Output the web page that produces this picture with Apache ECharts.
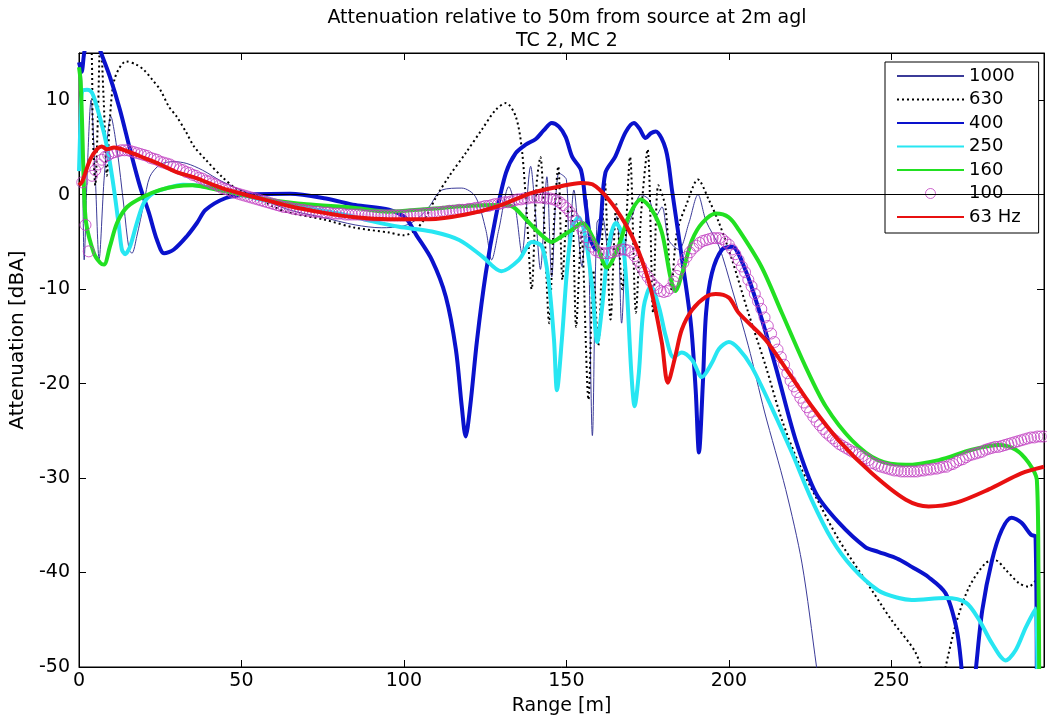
<!DOCTYPE html>
<html><head><meta charset="utf-8">
<script src="https://cdn.jsdelivr.net/npm/echarts/dist/echarts.min.js"></script>
<style>html,body{margin:0;padding:0;background:#fff}#c{width:1047px;height:723px}</style>
</head><body><div id="c"></div>
<script>
const xTicks = [0, 50, 100, 150, 200, 250];
const yTicks = [-50, -40, -30, -20, -10, 0, 10];
const seriesNames = ['1000', '630', '400', '250', '160', '100', '63 Hz'];
const titleLines = ['Attenuation relative to 50m from source at 2m agl', 'TC 2, MC 2'];

const s1000 = [[0,5],[0.7,13],[1.6,-6.9],[2.6,3],[3.7,10],[5,2],[6.2,-6.8],[7.8,2],[9.8,8.3],[11.7,4.8],[13.8,-1.2],[15.4,-5.8],[16.3,-6.2],[17.8,-4.4],[20,-0.85],[21.8,1.9],[25,3.2],[29.2,3.5],[33.2,3.3],[38,2.6],[44,1.4],[54.5,-0.2],[64.6,-1.6],[75,-2.4],[85,-3.2],[93,-3.5],[100,-3.3],[104,-2.6],[107.7,-1.3],[111.7,0.5],[117.8,0.7],[122,-0.2],[125.2,-3.7],[127,-6.9],[129.2,-3.7],[132.3,0.85],[134.4,-1.6],[136.3,-6.2],[139,3],[140.5,-2],[142,-7.9],[144,1.9],[145.5,-8.7],[147.7,2.3],[150,1.6],[150.8,-5.8],[152.3,0.5],[154.8,-7.6],[156.3,-0.5],[158,-25.5],[159.4,-3],[161,-2.3],[163,-6],[165.5,-2.3],[167,-13.6],[168.6,-3.7],[170.5,-2],[172.9,0],[175.4,-0.5],[177.5,-2.3],[179.4,-1.3],[181.5,-4.8],[184.6,-5.8],[187.7,-3],[190.5,0],[193,-2.8],[197,-5.5],[201,-10],[206,-16],[211,-23],[217.5,-31.2],[222.5,-39],[227,-50],[229,-55]];

const s630 = [[0,17],[3.3,17],[4.3,6],[5,1],[5.8,8],[6.6,17],[7.6,10],[8.6,2],[9.5,8],[11,12.3],[14.5,14.1],[17.5,13.8],[20,13.2],[22.5,12.2],[25,11.1],[27.7,9.3],[30,8.3],[33,6.6],[35.4,5.1],[39,3.7],[44,1.9],[49,0.5],[54.5,-0.2],[59.4,-1.2],[64.6,-1.9],[75,-2.6],[85,-3.5],[95.4,-4],[100,-4.3],[103.7,-3.7],[106.8,-2.3],[110,-0.2],[113.8,1.9],[119,4.4],[124,6.9],[128.3,9],[131.4,9.7],[134.4,8.3],[136.3,4.8],[137.8,-2],[139.3,-10],[140.8,1],[142,4],[143.3,-4],[144.7,-13.6],[146,-4],[147.5,3],[148.8,-9],[150.2,-2],[151.6,-1.3],[153,-14],[154.6,-4],[156.8,-21.7],[158.3,-8],[159.8,-16],[161.8,1.6],[163.6,-13.2],[165.4,-1],[167.2,-10],[169.6,4],[171.4,-12.5],[173,-2],[175,4.8],[176.7,-12.5],[178.3,1],[180.5,-1.3],[182.3,-10],[184,-4],[187,-1],[190.5,1.6],[193.8,-0.5],[197,-3],[201,-6.9],[206,-12.5],[211.4,-18.2],[216.3,-23.8],[221.5,-28.4],[226.8,-32],[233.8,-36.5],[242,-40.8],[250,-45],[257.5,-48.5],[261,-52],[264,-54],[266.7,-50],[270,-45.3],[274,-41.5],[279,-39],[282,-38.7],[285.2,-39.7],[289.2,-41.1],[292.3,-41.5],[294.5,-40.8]];

const s400 = [[0,14],[0.8,13],[1.6,15],[3,17],[5,17],[6.5,15.3],[9.5,12.5],[12.6,9],[15.7,4.8],[18.8,0.85],[21.5,-1.9],[24,-4.8],[26.2,-6.2],[29.2,-5.8],[33.2,-4.4],[36.3,-3],[39,-1.6],[45.2,-0.35],[51.4,0],[65,0.1],[76,-0.4],[85,-1.1],[95.4,-1.6],[100.6,-2.5],[103.7,-4.2],[108.6,-6.9],[112.9,-10.8],[116,-16.4],[117.8,-22.4],[119,-25.6],[120.4,-22.4],[122.5,-15.4],[125.2,-8.3],[128.3,-2.3],[131.4,2.3],[134.4,4.4],[137.5,5.3],[140.6,5.9],[143,6.8],[145.5,7.6],[147.7,7.2],[149.8,6.1],[151.8,4],[154.5,2.6],[156,-1.2],[157.5,-4.8],[159,-5.8],[160.5,-3],[162,2.3],[165,4],[168.2,6.6],[170.8,7.6],[172.5,7],[174.4,6],[176,6.5],[177.5,6.7],[180.6,4.8],[182.5,0.5],[185.5,-6.6],[188.3,-13.6],[189.8,-20.7],[190.8,-27.3],[192,-20],[193,-12.5],[194.8,-8.3],[197.9,-5.8],[201,-5.5],[205,-7.9],[209,-11.9],[214.4,-18.2],[220.6,-26],[226.8,-31.6],[233.8,-34.7],[242,-37.3],[246,-37.8],[252.3,-38.6],[256.3,-39.4],[261.5,-40.5],[266.7,-42.2],[270,-45.8],[271.4,-49.3],[273.5,-58],[276,-50.3],[278,-44],[281,-38.7],[284,-35.5],[287,-34.2],[290,-34.7],[293,-36],[294.4,-36.2],[294.8,-55]];

const s250 = [[0,2.5],[0.5,8],[1,11],[2.5,11.1],[4,10.8],[5.5,9.3],[7.7,6.5],[9.2,4],[10.8,0.5],[12.3,-3.4],[13.2,-5.8],[14.2,-6.3],[15.7,-5.5],[17.8,-3],[20,-0.85],[23,0.2],[27,0.7],[32,1.05],[38,0.9],[44,0.5],[50,0],[60,-0.8],[70,-1.4],[80,-2.0],[90,-2.8],[98.5,-3.4],[108.6,-3.9],[117,-4.8],[124,-6.5],[130,-8.1],[135.4,-6.9],[139.4,-5],[142.5,-5.5],[144.6,-9.3],[146.2,-15.4],[147.1,-20.7],[148.6,-15.4],[150.2,-8],[151.8,-3.4],[153.8,-2.4],[156,-4.8],[158,-10],[159.5,-15.6],[161,-11.9],[163,-5.5],[165.2,-3],[167,-4],[168.6,-10],[170,-18.9],[171,-22.4],[172.3,-18.9],[173.8,-11.9],[176,-9.7],[178.5,-11.9],[180.6,-15],[183,-17.2],[185.5,-16.7],[188.7,-17.5],[191.7,-19.3],[194.8,-17.8],[197,-16.3],[200,-15.6],[203,-16.3],[207,-18.2],[213,-22.4],[219.4,-27.3],[225.5,-32.3],[231.7,-36.5],[237.9,-39.4],[246,-41.9],[252.3,-42.7],[256.3,-42.9],[266.7,-42.7],[273,-43.2],[277,-45],[281,-47.5],[285.2,-49.3],[288.3,-48.2],[291.4,-45.8],[294.5,-43.8],[295,-55]];

const s160 = [[0,13.5],[0.5,12],[1,7],[1.5,1],[2.2,-3],[4.6,-6.2],[6.5,-7.2],[7.7,-7.4],[9.5,-5.5],[11.7,-3],[14.8,-1.3],[20,-0.2],[25,0.5],[30,0.9],[35,1.0],[40,0.7],[50,0],[60,-0.6],[70,-1.0],[85,-1.4],[95,-1.8],[108,-1.5],[119,-1.2],[129,-1.1],[133,-1.2],[137.5,-2.6],[141.5,-4],[145.5,-5],[148.6,-4.4],[151.8,-3.7],[154.8,-3],[159,-5.1],[162.5,-7.7],[166,-5.5],[169.2,-2.3],[172.9,-0.5],[176.3,-1.6],[179.4,-4],[182,-8.7],[183.5,-10.2],[186,-7.9],[188.7,-4.8],[191.8,-3],[196,-2.0],[200,-2.4],[203,-3.7],[210,-7.6],[216.3,-12.5],[223.6,-18.2],[229.8,-22.4],[237.9,-26],[246,-28.1],[254.5,-28.6],[264.6,-28.1],[274.8,-27],[283,-26.5],[288.3,-27],[292.3,-28.4],[294.8,-30.2],[295.3,-40],[295.6,-55]];

const x100Start = 1;
const y100 = [
 1.3,-3.2,-6.0,2.0,2.6,3.2,3.7,4.0,4.2,4.4,
 4.5,4.6,4.7,4.7,4.7,4.6,4.5,4.4,4.3,4.2,
 4.1,3.9,3.8,3.7,3.5,3.4,3.3,3.2,3.0,2.9,
 2.7,2.6,2.4,2.3,2.1,2.0,1.8,1.7,1.5,1.4,
 1.2,1.1,0.9,0.7,0.6,0.5,0.3,0.2,0.1,0.0,
 -0.1,-0.2,-0.3,-0.4,-0.5,-0.6,-0.7,-0.8,-0.9,-1.0,
 -1.1,-1.2,-1.3,-1.3,-1.4,-1.5,-1.5,-1.6,-1.6,-1.7,
 -1.7,-1.8,-1.8,-1.8,-1.9,-1.9,-1.9,-2.0,-2.0,-2.0,
 -2.0,-2.1,-2.1,-2.1,-2.1,-2.1,-2.1,-2.2,-2.2,-2.2,
 -2.2,-2.2,-2.2,-2.2,-2.2,-2.2,-2.2,-2.2,-2.2,-2.2,
 -2.2,-2.1,-2.1,-2.1,-2.1,-2.0,-2.0,-2.0,-1.9,-1.9,
 -1.9,-1.8,-1.8,-1.7,-1.7,-1.7,-1.6,-1.6,-1.6,-1.5,
 -1.5,-1.4,-1.4,-1.3,-1.2,-1.2,-1.1,-1.0,-1.0,-0.9,
 -0.8,-0.8,-0.7,-0.6,-0.5,-0.5,-0.4,-0.4,-0.3,-0.3,
 -0.3,-0.3,-0.3,-0.4,-0.4,-0.5,-0.6,-0.8,-1.1,-1.4,
 -1.8,-2.3,-2.8,-3.3,-3.9,-4.5,-5.0,-5.5,-5.9,-6.1,
 -6.2,-6.2,-6.2,-6.1,-6.0,-5.9,-5.8,-5.8,-5.9,-6.1,
 -6.5,-7.0,-7.6,-8.2,-8.7,-9.2,-9.6,-9.9,-10.2,-10.3,
 -10.2,-9.9,-9.2,-8.6,-7.9,-7.2,-6.6,-6.1,-5.7,-5.4,
 -5.1,-4.9,-4.8,-4.7,-4.6,-4.6,-4.6,-4.7,-5.0,-5.3,
 -5.8,-6.3,-6.9,-7.6,-8.2,-9.0,-9.7,-10.5,-11.3,-12.1,
 -13.0,-13.9,-14.7,-15.6,-16.4,-17.2,-18.0,-18.9,-19.7,-20.3,
 -20.9,-21.5,-22.0,-22.5,-23.0,-23.5,-24.0,-24.4,-24.8,-25.2,
 -25.5,-25.8,-26.1,-26.4,-26.6,-26.8,-27.0,-27.2,-27.3,-27.5,
 -27.7,-27.9,-28.1,-28.4,-28.5,-28.7,-28.8,-28.9,-29.0,-29.1,
 -29.2,-29.2,-29.3,-29.3,-29.3,-29.3,-29.3,-29.3,-29.2,-29.2,
 -29.1,-29.1,-29.0,-29.0,-28.9,-28.8,-28.8,-28.6,-28.5,-28.3,
 -28.1,-28.0,-27.8,-27.6,-27.5,-27.4,-27.3,-27.2,-27.0,-26.9,
 -26.8,-26.7,-26.7,-26.6,-26.5,-26.4,-26.3,-26.2,-26.1,-26.0,
 -25.9,-25.8,-25.7,-25.7,-25.6,-25.6,-25.6
];

const s63 = [[0,1.0],[1,1.4],[3.4,3.7],[5.5,4.8],[7,5.1],[8.6,4.8],[10.8,5.0],[14.8,4.6],[20,3.9],[25,3.2],[30,2.4],[35.7,1.8],[44,0.7],[54.5,-0.3],[64.6,-1.2],[75,-1.9],[85,-2.4],[95.4,-2.6],[107.7,-2.6],[119,-2.1],[129,-1.2],[139.4,0.2],[147.7,0.85],[154.5,1.25],[158,1.1],[163,-0.5],[168,-3],[172,-5.8],[176,-10],[179.4,-15.7],[181.2,-19.9],[183.6,-17],[185.5,-14.3],[188.7,-12.2],[193,-10.8],[196,-10.5],[200,-10.9],[203,-12.5],[211.4,-15.4],[218.5,-18.9],[225.5,-22.4],[233.8,-26],[244,-29.5],[254.5,-32.3],[261.5,-33],[270,-32.6],[280,-31.2],[290,-29.5],[297,-28.8]];

const FONT = 'DejaVu Sans';
const MAGENTA = '#c03cc0';
const chart = echarts.init(document.getElementById('c'), null, {renderer: 'canvas'});

const baseAxisX = {type: 'value', min: 0, max: 297, interval: 50, splitLine: {show: false},
  axisLine: {show: true, onZero: false, lineStyle: {color: '#000', width: 1}},
  axisTick: {show: true, inside: true, length: 7, lineStyle: {color: '#000'}}};
const baseAxisY = {type: 'value', min: -50, max: 15, interval: 10, splitLine: {show: false},
  axisLine: {show: true, onZero: false, lineStyle: {color: '#000', width: 1}},
  axisTick: {show: true, inside: true, length: 7, lineStyle: {color: '#000'}}};

function lineSeries(name, data, color, width, type, z) {
  return {name, type: 'line', data, symbol: 'none', showSymbol: false, smooth: 0.3, z,
    lineStyle: {color, width, type}, itemStyle: {color}, clip: true, animation: false};
}

const option = {
  backgroundColor: '#fff',
  animation: false,
  title: {text: titleLines.join('\n'), left: 562, top: 2, textAlign: 'center',
    textStyle: {fontFamily: FONT, fontSize: 19, fontWeight: 'normal', color: '#000', lineHeight: 23}},
  grid: {left: 79, right: 3, top: 53, bottom: 56, containLabel: false, outerBoundsMode: 'none',
    show: true, borderColor: '#000', borderWidth: 1, backgroundColor: '#fff'},
  legend: {orient: 'vertical', left: 885, top: 62, itemWidth: 67, itemHeight: 10, itemGap: 5.5,
    padding: [5, 18, 7, 11], backgroundColor: '#fff', borderColor: '#000', borderWidth: 1, borderRadius: 0,
    textStyle: {fontFamily: FONT, fontSize: 18, color: '#000', lineHeight: 18},
    data: seriesNames.map(n => n === '100'
      ? {name: n, icon: 'circle', itemStyle: {color: 'rgba(0,0,0,0)', borderColor: MAGENTA, borderWidth: 1}}
      : {name: n, itemStyle: {color: 'rgba(0,0,0,0)', borderColor: 'rgba(0,0,0,0)', borderWidth: 0, opacity: 0}})},
  xAxis: [
    Object.assign({}, baseAxisX, {position: 'bottom', name: 'Range [m]', nameLocation: 'middle', nameGap: 30,
      nameTextStyle: {fontFamily: FONT, fontSize: 19, color: '#000'},
      axisLabel: {show: true, margin: 5, fontFamily: FONT, fontSize: 19, color: '#000', showMaxLabel: false,
        formatter: v => xTicks.includes(v) ? String(v) : ''}}),
    Object.assign({}, baseAxisX, {position: 'top', axisLabel: {show: false}})
  ],
  yAxis: [
    Object.assign({}, baseAxisY, {position: 'left', name: 'Attenuation [dBA]', nameLocation: 'middle', nameGap: 49,
      nameTextStyle: {fontFamily: FONT, fontSize: 20, color: '#000', padding: [0, 0, 0, 40]},
      axisLabel: {show: true, margin: 9, fontFamily: FONT, fontSize: 19, color: '#000', showMaxLabel: false,
        formatter: v => yTicks.includes(v) ? String(v) : ''}}),
    Object.assign({}, baseAxisY, {position: 'right', axisLabel: {show: false}})
  ],
  series: [
    Object.assign(lineSeries('1000', s1000, '#3b3b98', 1, 'solid', 2), {
      markLine: {silent: true, symbol: 'none', label: {show: false}, animation: false,
        lineStyle: {color: '#000', width: 1, type: 'solid'}, data: [{yAxis: 0}]}}),
    lineSeries('630', s630, '#000', 2, [2, 3], 3),
    lineSeries('400', s400, '#0a12cc', 4, 'solid', 4),
    lineSeries('250', s250, '#27e6f2', 4, 'solid', 5),
    lineSeries('160', s160, '#22e022', 4, 'solid', 6),
    {name: '100', type: 'scatter', z: 7, symbol: 'circle', symbolSize: 11, animation: false,
      data: y100.map((v, i) => [x100Start + i, v]),
      itemStyle: {color: 'rgba(0,0,0,0)', borderColor: MAGENTA, borderWidth: 1}},
    lineSeries('63 Hz', s63, '#e81010', 4, 'solid', 8)
  ]
};
chart.setOption(option);
</script></body></html>
